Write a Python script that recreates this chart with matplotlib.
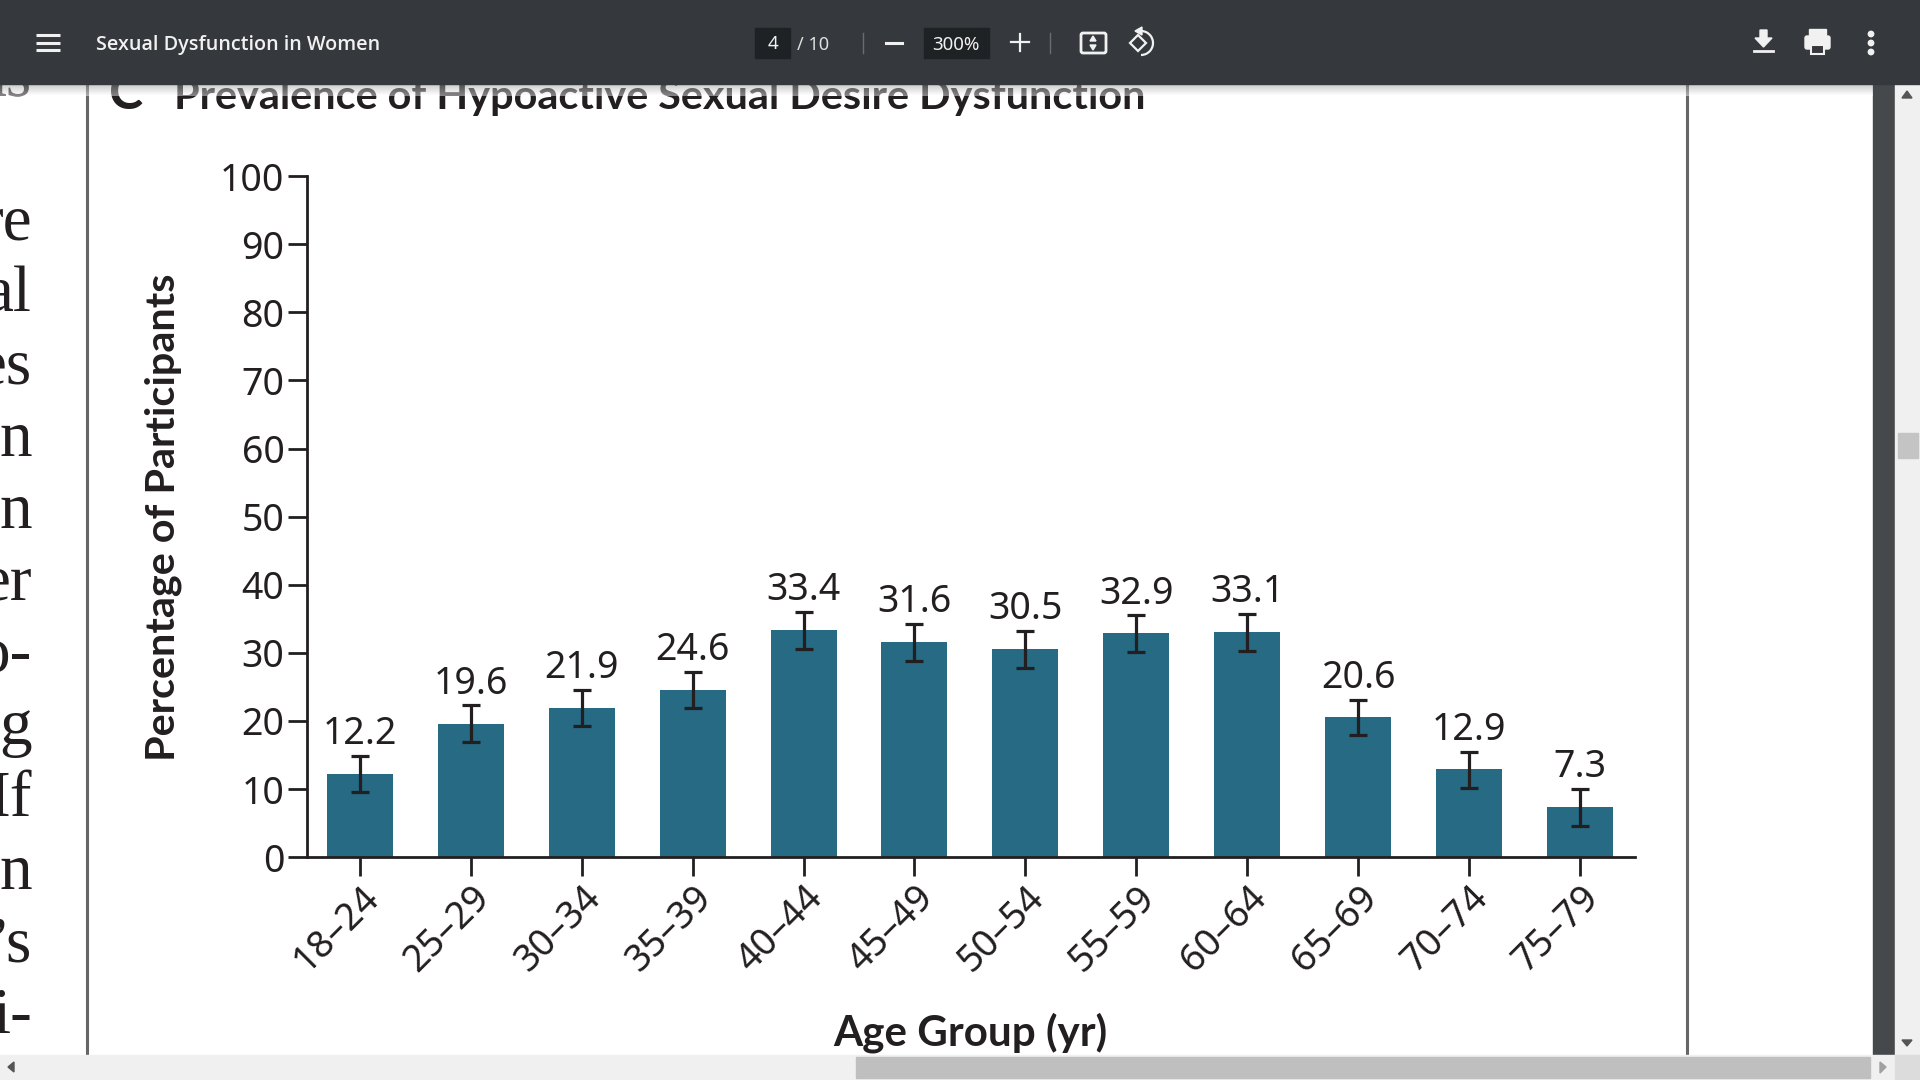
import matplotlib
matplotlib.use('Agg')
import matplotlib.pyplot as plt
import numpy as np
from matplotlib.patches import Rectangle, Circle, Polygon, FancyBboxPatch, Arc

plt.rcParams['font.family'] = ['Noto Sans', 'DejaVu Sans']

#Values.
ages = ['18–24', '25–29', '30–34', '35–39', '40–44', '45–49',
        '50–54', '55–59', '60–64', '65–69', '70–74', '75–79']
prevalence = [12.2, 19.6, 21.9, 24.6, 33.4, 31.6, 30.5, 32.9, 33.1, 20.6, 12.9, 7.3]
ci_low = [9.5, 16.9, 19.2, 21.9, 30.6, 28.8, 27.8, 30.1, 30.3, 17.9, 10.1, 4.6]
ci_high = [14.9, 22.3, 24.6, 27.2, 36.0, 34.2, 33.2, 35.5, 35.7, 23.1, 15.5, 10.0]

W, H = 1920, 1080
INK = '#231f20'
BAR = '#266a84'
TOOLBAR = '#35383c'
BOLD = ['Lato', 'DejaVu Sans']

fig = plt.figure(figsize=(W / 100, H / 100), dpi=100, facecolor='white')

#Pixel canvas for the viewer around the chart.
bg = fig.add_axes([0, 0, 1, 1])
bg.set_xlim(0, W)
bg.set_ylim(H, 0)
bg.axis('off')

#Page borders.
bg.plot([87, 87], [84, 1055], color='#666666', lw=2.2, zorder=1)
bg.plot([1687, 1687], [84, 1055], color='#666666', lw=2.2, zorder=1)

#Cut off body text on the left.
body = {95: 'as', 239: 're', 311: 'al', 384: 'es', 456: 'n', 528: 'n', 600: 'er', 672: 'o-',
        744: 'g', 816: 'If', 889: 'n', 961: '’s', 1033: 'i-'}
for y, s in body.items():
    bg.text(32, y, s, family='Liberation Serif', fontsize=47,
            color=INK, ha='right', va='baseline', zorder=1, clip_on=True)

#Panel heading, runs under the toolbar.
bg.text(109, 109, 'C', family=BOLD, fontsize=37, fontweight='bold', color=INK, va='baseline', zorder=1)
bg.text(174, 109, 'Prevalence of Hypoactive Sexual Desire Dysfunction', family=BOLD, fontsize=29.8,
        fontweight='bold', color=INK, va='baseline', zorder=1)

#Toolbar.
bg.add_patch(Rectangle((0, 0), W, 84, color=TOOLBAR, zorder=5))
shadow = np.linspace(0.45, 0, 12).reshape(-1, 1)
bg.imshow(shadow, extent=(0, 1873, 96, 84), cmap='gray_r', vmin=0, vmax=1, alpha=0.45,
          aspect='auto', zorder=4)
bg.set_xlim(0, W)
bg.set_ylim(H, 0)

for y in (35, 43, 50):
    bg.plot([36, 60], [y, y], color='#f1f1f1', lw=2.2, zorder=6, solid_capstyle='butt')
bg.text(96, 45, 'Sexual Dysfunction in Women', family=['Open Sans', 'DejaVu Sans'], fontsize=14.2,
        fontweight='semibold', color='#f1f1f1', va='center', zorder=6)

bg.add_patch(Rectangle((755, 28), 35, 30, color='#1f2225', zorder=6))
bg.text(773, 44, '4', fontsize=13.5, color='#f1f1f1', ha='center', va='center', zorder=7)
bg.text(813, 45, '/ 10', fontsize=13, color='#e0e0e0', ha='center', va='center', zorder=7)
bg.plot([863, 863], [33, 53], color='#6a6d70', lw=1, zorder=6)
bg.plot([886, 902], [43, 43], color='#f1f1f1', lw=2.2, zorder=6)
bg.add_patch(Rectangle((924, 28), 65, 30, color='#1f2225', zorder=6))
bg.text(956, 45, '300%', fontsize=13.5, color='#f1f1f1', ha='center', va='center', zorder=7)
bg.plot([1011, 1029], [42, 42], color='#f1f1f1', lw=1.6, zorder=6)
bg.plot([1020, 1020], [34, 51], color='#f1f1f1', lw=1.6, zorder=6)
bg.plot([1050, 1050], [33, 53], color='#6a6d70', lw=1, zorder=6)

#Fit page and rotate icons.
bg.add_patch(FancyBboxPatch((1081, 33), 25, 20, boxstyle='round,pad=0,rounding_size=2',
                            fc='none', ec='#f1f1f1', lw=2, zorder=6))
bg.add_patch(Polygon([(1090, 41), (1096, 41), (1093, 36)], color='#f1f1f1', zorder=6))
bg.add_patch(Polygon([(1090, 45), (1096, 45), (1093, 50)], color='#f1f1f1', zorder=6))
bg.add_patch(Polygon([(1130, 43), (1138, 35), (1146, 43), (1138, 51)], fc='none',
                     ec='#f1f1f1', lw=1.6, zorder=6))
bg.add_patch(Arc((1141, 43), 24, 24, theta1=-110, theta2=90, color='#f1f1f1', lw=1.6, zorder=6))
bg.add_patch(Polygon([(1135, 31), (1142, 27), (1142, 35)], color='#f1f1f1', zorder=6))

#Download, print, more.
bg.add_patch(Polygon([(1755, 38), (1760, 38), (1760, 30), (1767, 30), (1767, 38), (1772, 38),
                      (1763.5, 47)], color='#f1f1f1', zorder=6))
bg.plot([1754, 1773], [51, 51], color='#f1f1f1', lw=2, zorder=6)
bg.add_patch(Rectangle((1809, 29), 17, 6, color='#f1f1f1', zorder=6))
bg.add_patch(FancyBboxPatch((1805, 36), 25, 13, boxstyle='round,pad=0,rounding_size=2',
                            color='#f1f1f1', zorder=6))
bg.add_patch(Rectangle((1811, 45), 13, 9, fc=TOOLBAR, ec='#f1f1f1', lw=1.5, zorder=7))
for y in (34, 43, 52):
    bg.add_patch(Circle((1871, y), 2.7, color='#f1f1f1', zorder=6))

#Scrollbars.
bg.add_patch(Rectangle((1873, 84), 22, 971, color='#46494b', zorder=2))
bg.add_patch(Rectangle((1895, 84), 25, 971, color='#f0f0f0', zorder=2))
bg.add_patch(Rectangle((1898, 433), 20, 25, color='#c4c4c4', zorder=3))
bg.add_patch(Polygon([(1902, 98), (1912, 98), (1907, 91)], color='#555555', zorder=3))
bg.add_patch(Polygon([(1902, 1040), (1912, 1040), (1907, 1046)], color='#555555', zorder=3))
bg.add_patch(Rectangle((0, 1055), W, 25, color='#f0f0f0', zorder=2))
bg.add_patch(Rectangle((1895, 1055), 25, 25, color='#dcdcdc', zorder=3))
bg.add_patch(Rectangle((856, 1057), 1014, 21, color='#bfbfbf', zorder=3))
bg.add_patch(Polygon([(8, 1067), (14, 1062), (14, 1072)], color='#555555', zorder=3))
bg.add_patch(Polygon([(1880, 1062), (1880, 1073), (1886, 1067)], color='#a0a0a0', zorder=3))

#The chart itself.
left, right, bottom, top = 306.7, 1635, 857.2, 176.1
ax = fig.add_axes([left / W, 1 - bottom / H, (right - left) / W, (bottom - top) / H])
ax.patch.set_alpha(0)

x = np.arange(len(ages))
ax.bar(x, prevalence, width=66 / 110.9, color=BAR, zorder=2)
yerr = [np.array(prevalence) - np.array(ci_low), np.array(ci_high) - np.array(prevalence)]
ax.errorbar(x, prevalence, yerr=yerr, fmt='none', ecolor=INK, elinewidth=2.3, capsize=6.2,
            capthick=2.3, zorder=3)

for xi, val, hi in zip(x, prevalence, ci_high):
    ax.annotate(f'{val}', (xi, hi), xytext=(0, 2), textcoords='offset points', ha='center',
                va='bottom', fontsize=27, color=INK)

ax.set_xlim(-0.4806, 11.497)
ax.set_ylim(0, 100)
ax.set_yticks(range(0, 101, 10))
ax.set_xticks(x)
ax.set_xticklabels(ages, rotation=45, ha='right', va='top', rotation_mode='anchor')
ax.tick_params(axis='both', length=14, width=2, color=INK, labelcolor=INK, labelsize=27)
ax.tick_params(axis='y', pad=2)
ax.tick_params(axis='x', pad=1.5)
for side in ('top', 'right'):
    ax.spines[side].set_visible(False)
for side in ('left', 'bottom'):
    ax.spines[side].set_linewidth(2)
    ax.spines[side].set_color(INK)

bg.text(163, 517, 'Percentage of Participants', family=BOLD, fontsize=29.8, fontweight='bold', color=INK,
        rotation=90, ha='center', va='center', zorder=1)
bg.text(970, 1033, 'Age Group (yr)', family=BOLD, fontsize=30.3, fontweight='bold', color=INK,
        ha='center', va='center', zorder=1)

fig.savefig('out.png', dpi=100)
